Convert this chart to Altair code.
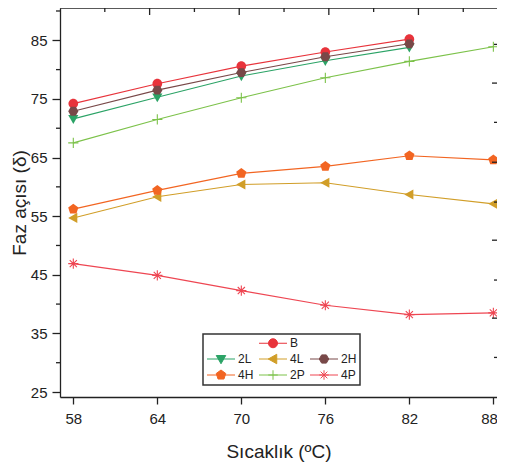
import math
import altair as alt
import pandas as pd

# ---------------- data ----------------
temps = [58, 64, 70, 76, 82, 88]
series_names = ["B", "2L", "4L", "2H", "4H", "2P", "4P"]
B_vals = [74.2, 77.6, 80.6, 83.0, 85.2, None]
L2_vals = [71.6, 75.3, 78.9, 81.5, 83.8, None]
L4_vals = [54.7, 58.3, 60.4, 60.7, 58.7, 57.1]
H2_vals = [72.9, 76.5, 79.5, 82.2, 84.4, None]
H4_vals = [56.2, 59.4, 62.3, 63.5, 65.3, 64.6]
P2_vals = [67.5, 71.5, 75.2, 78.6, 81.4, 83.9]
P4_vals = [46.9, 44.9, 42.3, 39.8, 38.2, 38.5]

x_tick_values = [58, 64, 70, 76, 82, 88]
y_label_values = [25, 35, 45, 55, 65, 75, 85]
y_minor_values = [30, 40, 50, 60, 70, 80, 90]
top_major = [63.45, 69.85, 76.25, 82.65]
top_minor = [60.25, 66.65, 73.05, 79.45, 85.85]
right_major = [77.7, 64.2, 50.9, 37.6]
right_minor = [84.3, 71.0, 57.4, 44.1, 30.9]

legend_keys = ["_1", "B", "_2", "2L", "4L", "2H", "4H", "2P", "4P"]

# ---------------- styles ----------------
colors = {
    "B": "#E8333B",
    "2L": "#2BA366",
    "4L": "#D19E28",
    "2H": "#784848",
    "4H": "#F26522",
    "2P": "#7CC24A",
    "4P": "#EE4652",
}
filled = {"B": True, "2L": True, "4L": True, "2H": True, "4H": True, "2P": False, "4P": False}


def poly(pts, cx=0.0):
    return "M" + "L".join(f"{x + cx:.3f},{y:.3f}" for x, y in pts) + "Z"


def marker(name, cx=0.0):
    r = 0.9
    if name == "B":
        return f"M{cx + r:.3f},0A{r},{r} 0 1,1 {cx - r:.3f},0A{r},{r} 0 1,1 {cx + r:.3f},0Z"
    if name == "2L":
        return poly([(0, 0.95), (-0.95, -0.7), (0.95, -0.7)], cx)
    if name == "4L":
        return poly([(-0.95, 0), (0.75, -0.95), (0.75, 0.95)], cx)
    if name == "2H":
        return poly([(0.95 * math.cos(math.radians(a)), 0.95 * math.sin(math.radians(a)))
                     for a in range(0, 360, 60)], cx)
    if name == "4H":
        return poly([(1.0 * math.cos(math.radians(-90 + 72 * k)),
                      1.0 * math.sin(math.radians(-90 + 72 * k))) for k in range(5)], cx)
    if name == "2P":
        return f"M{cx - 0.95:.3f},0H{cx + 0.95:.3f}M{cx:.3f},-0.95V0.95"
    return (f"M{cx - 0.95:.3f},0H{cx + 0.95:.3f}M{cx:.3f},-0.95V0.95"
            f"M{cx - 0.67:.3f},-0.67L{cx + 0.67:.3f},0.67M{cx - 0.67:.3f},0.67L{cx + 0.67:.3f},-0.67")


FONT = "Liberation Sans"
INK = "#222222"
W, H = 437, 389

# ---------------- table ----------------
vals = {"B": B_vals, "2L": L2_vals, "4L": L4_vals, "2H": H2_vals,
        "4H": H4_vals, "2P": P2_vals, "4P": P4_vals}
rows = []
for s in series_names:
    for t, v in zip(temps, vals[s]):
        if v is not None:
            rows.append({"T": t, "v": v, "s": s})
df = pd.DataFrame(rows)

xscale = alt.Scale(domain=[57.05, 88.26], nice=False, zero=False)
yscale = alt.Scale(domain=[24.15, 90.51], nice=False, zero=False)

x_axis = alt.Axis(values=x_tick_values, title="Sıcaklık (ºC)", grid=False, tickSize=7,
                  labelPadding=7, titlePadding=16, labelFlush=5, labelFlushOffset=4)
y_axis = alt.Axis(values=y_label_values, title="Faz açısı (δ)", grid=False, tickSize=8,
                  labelPadding=5, titlePadding=1)


def X(field):
    return alt.X(field, scale=xscale, axis=x_axis)


def Y(field):
    return alt.Y(field, scale=yscale, axis=y_axis)


base = alt.Chart(df)

layers = []
for s in series_names:
    sub = base.transform_filter(alt.datum.s == s)
    layers.append(sub.mark_line(strokeWidth=1.1, color=colors[s]).encode(
        x=X("T:Q"), y=Y("v:Q")))
for s in series_names:
    sub = base.transform_filter(alt.datum.s == s)
    if filled[s]:
        mk = sub.mark_point(filled=True, shape=marker(s), size=115,
                            fill=colors[s], opacity=1, strokeOpacity=0)
    else:
        mk = sub.mark_point(filled=False, shape=marker(s), size=115,
                            stroke=colors[s], strokeWidth=1.1, opacity=1)
    layers.append(mk.encode(x=X("T:Q"), y=Y("v:Q")))

# legend (drawn from an empty layer, explicit domains)
leg_shapes = []
leg_colors = []
for k in legend_keys:
    if k.startswith("_"):
        leg_shapes.append("M0,0")
        leg_colors.append("transparent")
    else:
        leg_shapes.append("M-1,0H4.6" + marker(k, 1.8))
        leg_colors.append(colors[k])

legend = alt.Legend(
    title=None, orient="none", legendX=143, legendY=326, columns=3,
    direction="horizontal", symbolOpacity=1,
    symbolSize=100, symbolStrokeWidth=1, labelOffset=20, columnPadding=3,
    rowPadding=2, padding=3, labelFont=FONT, labelFontSize=12, labelColor=INK,
    strokeColor="#333", fillColor="white",
    labelExpr="indexof(datum.label, '_') == 0 ? '' : datum.label",
)

layers.append(base.transform_filter("false").mark_point(filled=True, size=100).encode(
    x=X("T:Q"), y=Y("v:Q"),
    fill=alt.Fill("s:N", scale=alt.Scale(domain=legend_keys, range=leg_colors), legend=legend),
    stroke=alt.Stroke("s:N", scale=alt.Scale(domain=legend_keys, range=leg_colors), legend=legend),
    shape=alt.Shape("s:N", scale=alt.Scale(domain=legend_keys, range=leg_shapes), legend=legend),
))

# frame & extra ticks
frame_df = pd.DataFrame({"k": [0]})
layers.append(alt.Chart(frame_df).mark_rule(color=INK, strokeWidth=1.3).encode(
    x=alt.value(0), x2=alt.value(W), y=alt.value(0)))
layers.append(alt.Chart(pd.DataFrame({"t": top_major})).mark_rule(color=INK, strokeWidth=1.3).encode(
    x=X("t:Q"), y=alt.value(0), y2=alt.value(7)))
layers.append(alt.Chart(pd.DataFrame({"t": top_minor})).mark_rule(color=INK, strokeWidth=1.3).encode(
    x=X("t:Q"), y=alt.value(0), y2=alt.value(4)))
layers.append(alt.Chart(pd.DataFrame({"t": right_major})).mark_rule(color=INK, strokeWidth=1.3).encode(
    y=Y("t:Q"), x=alt.value(W - 5), x2=alt.value(W)))
layers.append(alt.Chart(pd.DataFrame({"t": right_minor})).mark_rule(color=INK, strokeWidth=1.3).encode(
    y=Y("t:Q"), x=alt.value(W - 3), x2=alt.value(W)))
layers.append(alt.Chart(pd.DataFrame({"t": y_minor_values})).mark_rule(color=INK, strokeWidth=1.3).encode(
    y=Y("t:Q"), x=alt.value(-4), x2=alt.value(0)))

chart = alt.layer(*layers).properties(
    width=W, height=H, autosize="none",
    padding={"left": 52, "top": 0, "right": 0, "bottom": 66},
).configure_view(
    stroke=None
).configure_axis(
    labelFont=FONT, titleFont=FONT, labelFontSize=15, titleFontSize=19,
    titleFontWeight="normal", labelColor=INK, titleColor=INK,
    domainColor=INK, tickColor=INK, domainWidth=1.3, tickWidth=1.3,
).configure_legend(
    strokeWidth=1.5
)

chart.save("out.html", embed_options={"renderer": "svg", "actions": False})
